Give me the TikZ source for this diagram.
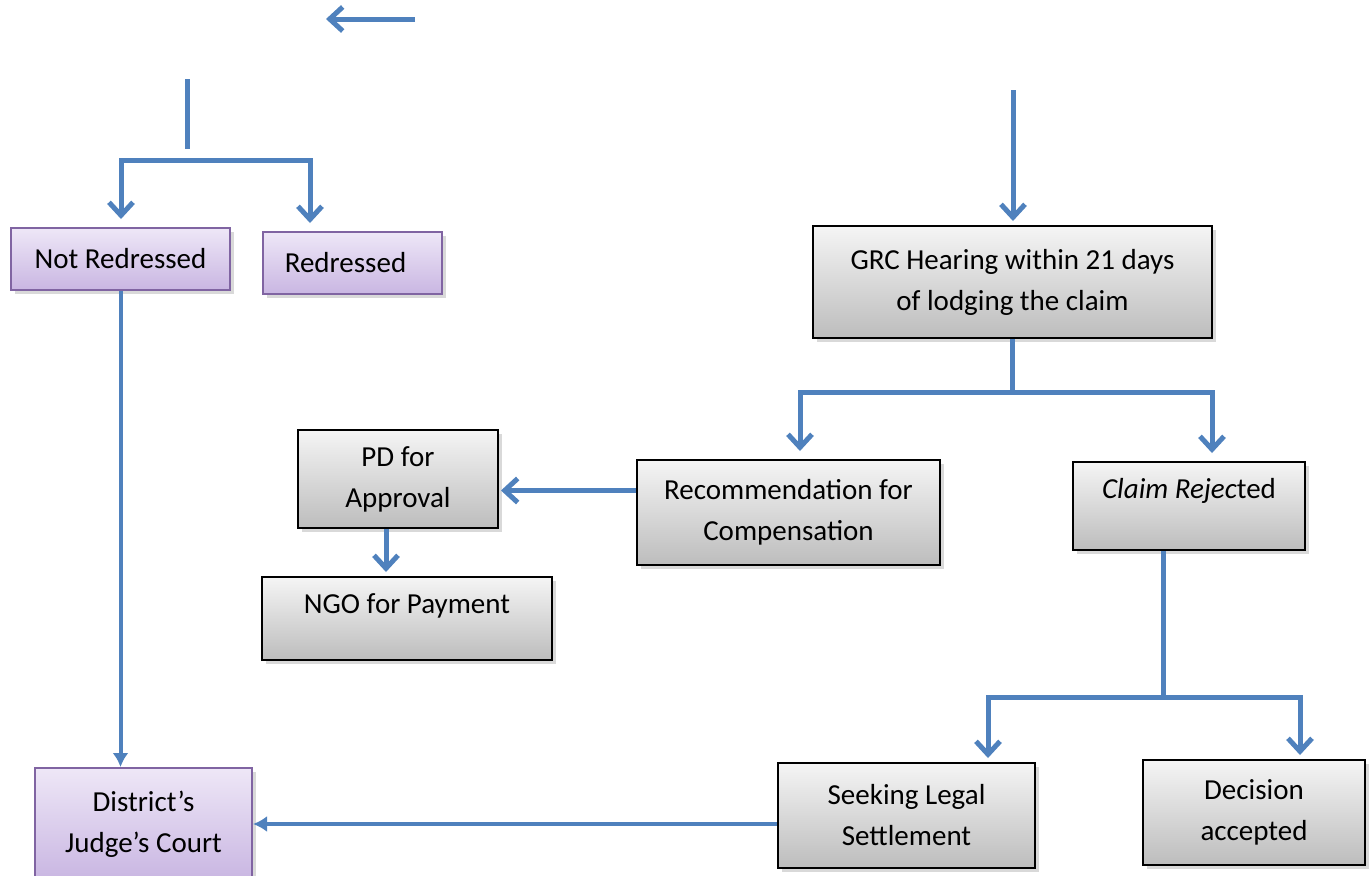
\documentclass[tikz,border=0pt]{standalone}
\usepackage{fontspec}
\setmainfont{Carlito}
\usetikzlibrary{arrows.meta,shapes,shadows,calc,positioning}

\begin{document}
\begin{tikzpicture}[x=0.5pt, y=-0.5pt, every node/.style={font=\fontsize{14.5}{20.5}\selectfont}]
  % Define colours
  \definecolor{flowblue}{RGB}{79,129,189}
  \definecolor{boxpurple}{RGB}{128,100,162}
  \definecolor{purpletop}{RGB}{238,231,247}
  \definecolor{purplebot}{RGB}{201,182,226}
  \tikzset{
    graybox/.style={draw=black, line width=1pt, top color=black!4, bottom color=black!26,
                    align=center, drop shadow={shadow xshift=2pt, shadow yshift=-2pt, opacity=0.3}},
    purplebox/.style={draw=boxpurple, line width=1pt, top color=purpletop, bottom color=purplebot,
                      align=center, drop shadow={shadow xshift=2pt, shadow yshift=-2pt, opacity=0.3}},
    flow/.style={flowblue, line width=2.5pt},
    barb/.style={flow, -{Straight Barb[length=6.5pt,width=12pt]}, shorten >=4pt},
    tri/.style={flowblue, line width=2pt, -{Latex[length=7pt,width=8pt]}}
  }
  \useasboundingbox (0,0) rectangle (1372,875);

  % Boxes
  \node[purplebox, minimum width=109.5pt, minimum height=31pt] (NotRed) at (120.5,259) {Not Redressed};
  \node[purplebox, minimum width=89.5pt, minimum height=31pt] (Red) at (352.5,263) {Redressed\hspace{7pt}};
  \node[purplebox, minimum width=108.5pt, minimum height=56pt] (District) at (143.5,824) {District’s\\Judge’s Court};

  \node[graybox, minimum width=199.5pt, minimum height=56pt] (GRC) at (1012.5,282) {GRC Hearing within 21 days\\of lodging the claim};
  \node[graybox, minimum width=151.5pt, minimum height=52.5pt] (Rec) at (788.5,512.5) {Recommendation for\\Compensation};
  \node[graybox, minimum width=100pt, minimum height=49pt] (PD) at (398,479) {PD for\\Approval};
  \node[graybox, minimum width=145pt, minimum height=41.5pt, text depth=15pt] (NGO) at (407,618.5) {NGO for Payment};
  \node[graybox, minimum width=116pt, minimum height=44pt, text depth=18pt] (Claim) at (1189,506) {\textit{Claim Rejec}ted};
  \node[graybox, minimum width=128.5pt, minimum height=52.5pt] (Seek) at (906.5,815.5) {Seeking Legal\\Settlement};
  \node[graybox, minimum width=111pt, minimum height=52.5pt] (Dec) at (1254,812.5) {Decision\\accepted};

  % Define points
  \coordinate (TopR) at (415,19);
  \coordinate (TopL) at (326,19);
  \coordinate (SplitT) at (187,79);
  \coordinate (SplitB) at (187,149);
  \coordinate (SplitL) at (121,160);
  \coordinate (SplitR) at (310,160);
  \coordinate (GrcIn) at (1013,90);
  \coordinate (GrcL) at (800,392);
  \coordinate (GrcR) at (1212,392);
  \coordinate (ClaimL) at (988,697);
  \coordinate (ClaimR) at (1300,697);

  % Left branch
  \draw [barb, shorten >=0pt] (TopR) -- (TopL);
  \draw [flow] (SplitT) -- (SplitB);
  \draw [barb] (SplitR) -- (SplitL) -- (SplitL |- NotRed.north);
  \draw [barb] (SplitL) -- (SplitR) -- (SplitR |- Red.north);
  \draw [tri] (NotRed.south) -- (NotRed.south |- District.north);
  \draw [tri] (Seek.west |- District.east) -- (District.east);

  % Right branch
  \draw [barb, shorten >=2pt] (GrcIn) -- (GrcIn |- GRC.north);
  \draw [flow] (GRC.south) -- (GRC.south |- GrcL);
  \draw [barb] (GrcR) -- (GrcL) -- (GrcL |- Rec.north);
  \draw [barb] (GrcL) -- (GrcR) -- (GrcR |- Claim.north);
  \draw [barb, shorten >=1pt] ([yshift=11pt]Rec.west) -- ([yshift=11pt]Rec.west -| PD.east);
  \draw [barb, shorten >=2pt] ([xshift=-6pt]PD.south) -- ([xshift=-6pt]PD.south |- NGO.north);
  \draw [flow] ([xshift=-13pt]Claim.south) -- ([xshift=-13pt]Claim.south |- ClaimL);
  \draw [barb, shorten >=2pt] (ClaimR) -- (ClaimL) -- (ClaimL |- Seek.north);
  \draw [barb, shorten >=2pt] (ClaimL) -- (ClaimR) -- (ClaimR |- Dec.north);
\end{tikzpicture}
\end{document}
